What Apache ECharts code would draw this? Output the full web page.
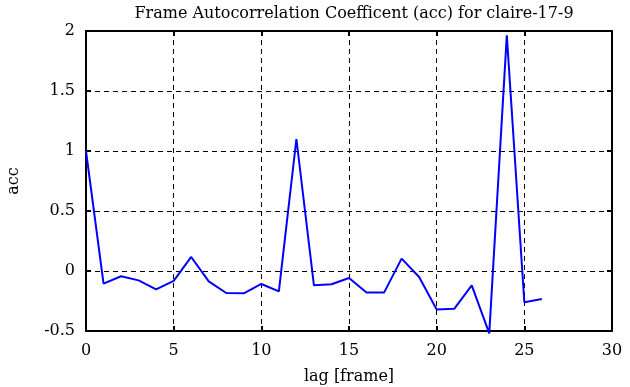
<!DOCTYPE html>
<html><head><meta charset="utf-8">
<script src="https://cdn.jsdelivr.net/npm/echarts@6/dist/echarts.min.js"></script>
<style>html,body{margin:0;padding:0;background:#fff}#c{width:630px;height:387px}</style>
</head><body><div id="c"></div>
<script>
const lags = [0,1,2,3,4,5,6,7,8,9,10,11,12,13,14,15,16,17,18,19,20,21,22,23,24,25,26];
const acc = [1.0,-0.105,-0.044,-0.078,-0.153,-0.083,0.117,-0.086,-0.183,-0.186,-0.108,-0.17,1.10,-0.119,-0.11,-0.058,-0.18,-0.18,0.103,-0.05,-0.32,-0.315,-0.12,-0.52,1.964,-0.26,-0.233];
const titleText = 'Frame Autocorrelation Coefficent (acc) for claire-17-9';
const xName = 'lag [frame]';
const yName = 'acc';

const font = 'DejaVu Serif, Liberation Serif, serif';
const chart = echarts.init(document.getElementById('c'));
const gridStyle = {show:true, lineStyle:{color:'#000', type:[5,4], width:1}};
chart.setOption({
  animation:false,
  title:{text:titleText, left:349, top:1, textAlign:'center',
    textStyle:{fontFamily:font, fontSize:16, fontWeight:'normal', color:'#000'}},
  grid:{left:86, right:18, top:31, bottom:56, containLabel:false, outerBoundsMode:'none'},
  xAxis:[{type:'value', min:0, max:30, interval:5,
    name:xName, nameLocation:'middle', nameGap:38,
    nameTextStyle:{fontFamily:font, fontSize:16, color:'#000'},
    axisLine:{onZero:false, lineStyle:{color:'#000', width:2}},
    axisTick:{inside:true, length:5, lineStyle:{color:'#000', width:2}},
    axisLabel:{fontFamily:font, fontSize:16, color:'#000', margin:12},
    splitLine:gridStyle},
   {type:'value', position:'top', min:0, max:30, interval:5,
    axisLine:{show:true, onZero:false, lineStyle:{color:'#000', width:2}},
    axisTick:{inside:true, length:5, lineStyle:{color:'#000', width:2}},
    axisLabel:{show:false}, splitLine:{show:false}}],
  yAxis:[{type:'value', min:-0.5, max:2, interval:0.5,
    name:yName, nameLocation:'middle', nameGap:64,
    nameTextStyle:{fontFamily:font, fontSize:16, color:'#000'},
    axisLine:{show:true, onZero:false, lineStyle:{color:'#000', width:2}},
    axisTick:{show:true, inside:true, length:5, lineStyle:{color:'#000', width:2}},
    axisLabel:{fontFamily:font, fontSize:16, color:'#000', margin:11},
    splitLine:gridStyle},
   {type:'value', position:'right', min:-0.5, max:2, interval:0.5,
    axisLine:{show:true, onZero:false, lineStyle:{color:'#000', width:2}},
    axisTick:{show:true, inside:true, length:5, lineStyle:{color:'#000', width:2}},
    axisLabel:{show:false}, splitLine:{show:false}}],
  series:[{type:'line', data:lags.map((x,i)=>[x,acc[i]]), showSymbol:false, clip:false,
    lineStyle:{color:'#0000ff', width:2}}]
});
</script></body></html>
